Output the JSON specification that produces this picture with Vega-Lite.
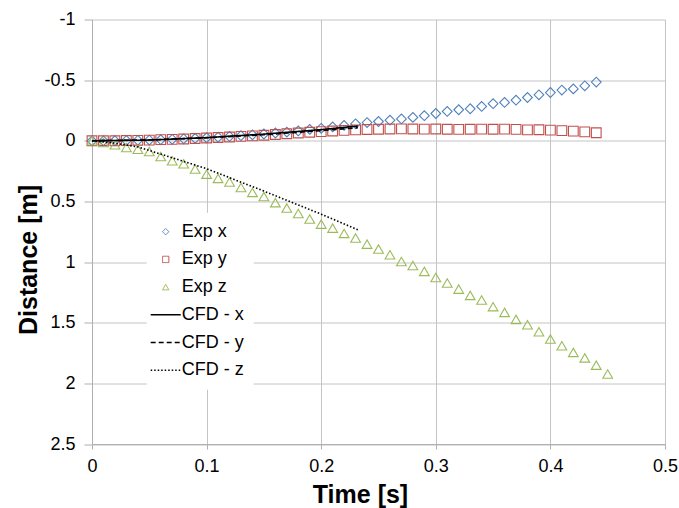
{
  "$schema": "https://vega.github.io/schema/vega-lite/v6.json",
  "width": 573,
  "height": 424.5,
  "autosize": {"type": "none"},
  "padding": {"left": 92, "top": 19.5, "right": 14, "bottom": 64},
  "background": "white",
  "config": {
    "font": "Liberation Sans",
    "view": {"stroke": null},
    "axis": {
      "labelFont": "Liberation Sans",
      "labelFontSize": 18,
      "labelColor": "#000000",
      "titleFont": "Liberation Sans",
      "titleFontSize": 25,
      "titleFontWeight": "bold",
      "titleColor": "#000000",
      "gridColor": "#C4C4C4",
      "gridWidth": 1,
      "domainColor": "#AFAFAF",
      "tickColor": "#AFAFAF"
    }
  },
  "datasets": {
    "exp": [
      {"t": 0.00, "d": 0.000, "series": "Exp x"},
      {"t": 0.01, "d": 0.000, "series": "Exp x"},
      {"t": 0.02, "d": -0.001, "series": "Exp x"},
      {"t": 0.03, "d": -0.002, "series": "Exp x"},
      {"t": 0.04, "d": -0.004, "series": "Exp x"},
      {"t": 0.05, "d": -0.006, "series": "Exp x"},
      {"t": 0.06, "d": -0.009, "series": "Exp x"},
      {"t": 0.07, "d": -0.012, "series": "Exp x"},
      {"t": 0.08, "d": -0.016, "series": "Exp x"},
      {"t": 0.09, "d": -0.020, "series": "Exp x"},
      {"t": 0.10, "d": -0.025, "series": "Exp x"},
      {"t": 0.11, "d": -0.030, "series": "Exp x"},
      {"t": 0.12, "d": -0.036, "series": "Exp x"},
      {"t": 0.13, "d": -0.042, "series": "Exp x"},
      {"t": 0.14, "d": -0.049, "series": "Exp x"},
      {"t": 0.15, "d": -0.056, "series": "Exp x"},
      {"t": 0.16, "d": -0.064, "series": "Exp x"},
      {"t": 0.17, "d": -0.072, "series": "Exp x"},
      {"t": 0.18, "d": -0.081, "series": "Exp x"},
      {"t": 0.19, "d": -0.094, "series": "Exp x"},
      {"t": 0.20, "d": -0.103, "series": "Exp x"},
      {"t": 0.21, "d": -0.114, "series": "Exp x"},
      {"t": 0.22, "d": -0.127, "series": "Exp x"},
      {"t": 0.23, "d": -0.140, "series": "Exp x"},
      {"t": 0.24, "d": -0.150, "series": "Exp x"},
      {"t": 0.25, "d": -0.159, "series": "Exp x"},
      {"t": 0.26, "d": -0.170, "series": "Exp x"},
      {"t": 0.27, "d": -0.180, "series": "Exp x"},
      {"t": 0.28, "d": -0.193, "series": "Exp x"},
      {"t": 0.29, "d": -0.207, "series": "Exp x"},
      {"t": 0.30, "d": -0.225, "series": "Exp x"},
      {"t": 0.31, "d": -0.242, "series": "Exp x"},
      {"t": 0.32, "d": -0.256, "series": "Exp x"},
      {"t": 0.33, "d": -0.264, "series": "Exp x"},
      {"t": 0.34, "d": -0.283, "series": "Exp x"},
      {"t": 0.35, "d": -0.306, "series": "Exp x"},
      {"t": 0.36, "d": -0.316, "series": "Exp x"},
      {"t": 0.37, "d": -0.335, "series": "Exp x"},
      {"t": 0.38, "d": -0.357, "series": "Exp x"},
      {"t": 0.39, "d": -0.379, "series": "Exp x"},
      {"t": 0.40, "d": -0.398, "series": "Exp x"},
      {"t": 0.41, "d": -0.418, "series": "Exp x"},
      {"t": 0.42, "d": -0.428, "series": "Exp x"},
      {"t": 0.43, "d": -0.453, "series": "Exp x"},
      {"t": 0.44, "d": -0.484, "series": "Exp x"},
      {"t": 0.00, "d": 0.000, "series": "Exp y"},
      {"t": 0.01, "d": 0.000, "series": "Exp y"},
      {"t": 0.02, "d": 0.000, "series": "Exp y"},
      {"t": 0.03, "d": -0.002, "series": "Exp y"},
      {"t": 0.04, "d": -0.004, "series": "Exp y"},
      {"t": 0.05, "d": -0.006, "series": "Exp y"},
      {"t": 0.06, "d": -0.009, "series": "Exp y"},
      {"t": 0.07, "d": -0.012, "series": "Exp y"},
      {"t": 0.08, "d": -0.015, "series": "Exp y"},
      {"t": 0.09, "d": -0.019, "series": "Exp y"},
      {"t": 0.10, "d": -0.023, "series": "Exp y"},
      {"t": 0.11, "d": -0.027, "series": "Exp y"},
      {"t": 0.12, "d": -0.031, "series": "Exp y"},
      {"t": 0.13, "d": -0.036, "series": "Exp y"},
      {"t": 0.14, "d": -0.041, "series": "Exp y"},
      {"t": 0.15, "d": -0.046, "series": "Exp y"},
      {"t": 0.16, "d": -0.052, "series": "Exp y"},
      {"t": 0.17, "d": -0.058, "series": "Exp y"},
      {"t": 0.18, "d": -0.064, "series": "Exp y"},
      {"t": 0.19, "d": -0.070, "series": "Exp y"},
      {"t": 0.20, "d": -0.076, "series": "Exp y"},
      {"t": 0.21, "d": -0.081, "series": "Exp y"},
      {"t": 0.22, "d": -0.086, "series": "Exp y"},
      {"t": 0.23, "d": -0.090, "series": "Exp y"},
      {"t": 0.24, "d": -0.093, "series": "Exp y"},
      {"t": 0.25, "d": -0.095, "series": "Exp y"},
      {"t": 0.26, "d": -0.097, "series": "Exp y"},
      {"t": 0.27, "d": -0.098, "series": "Exp y"},
      {"t": 0.28, "d": -0.097, "series": "Exp y"},
      {"t": 0.29, "d": -0.096, "series": "Exp y"},
      {"t": 0.30, "d": -0.097, "series": "Exp y"},
      {"t": 0.31, "d": -0.095, "series": "Exp y"},
      {"t": 0.32, "d": -0.094, "series": "Exp y"},
      {"t": 0.33, "d": -0.095, "series": "Exp y"},
      {"t": 0.34, "d": -0.096, "series": "Exp y"},
      {"t": 0.35, "d": -0.095, "series": "Exp y"},
      {"t": 0.36, "d": -0.096, "series": "Exp y"},
      {"t": 0.37, "d": -0.094, "series": "Exp y"},
      {"t": 0.38, "d": -0.090, "series": "Exp y"},
      {"t": 0.39, "d": -0.091, "series": "Exp y"},
      {"t": 0.40, "d": -0.088, "series": "Exp y"},
      {"t": 0.41, "d": -0.084, "series": "Exp y"},
      {"t": 0.42, "d": -0.080, "series": "Exp y"},
      {"t": 0.43, "d": -0.074, "series": "Exp y"},
      {"t": 0.44, "d": -0.066, "series": "Exp y"},
      {"t": 0.00, "d": 0.000, "series": "Exp z"},
      {"t": 0.01, "d": 0.014, "series": "Exp z"},
      {"t": 0.02, "d": 0.033, "series": "Exp z"},
      {"t": 0.03, "d": 0.055, "series": "Exp z"},
      {"t": 0.04, "d": 0.070, "series": "Exp z"},
      {"t": 0.05, "d": 0.088, "series": "Exp z"},
      {"t": 0.06, "d": 0.130, "series": "Exp z"},
      {"t": 0.07, "d": 0.165, "series": "Exp z"},
      {"t": 0.08, "d": 0.190, "series": "Exp z"},
      {"t": 0.09, "d": 0.233, "series": "Exp z"},
      {"t": 0.10, "d": 0.275, "series": "Exp z"},
      {"t": 0.11, "d": 0.310, "series": "Exp z"},
      {"t": 0.12, "d": 0.340, "series": "Exp z"},
      {"t": 0.13, "d": 0.385, "series": "Exp z"},
      {"t": 0.14, "d": 0.426, "series": "Exp z"},
      {"t": 0.15, "d": 0.460, "series": "Exp z"},
      {"t": 0.16, "d": 0.510, "series": "Exp z"},
      {"t": 0.17, "d": 0.555, "series": "Exp z"},
      {"t": 0.18, "d": 0.600, "series": "Exp z"},
      {"t": 0.19, "d": 0.645, "series": "Exp z"},
      {"t": 0.20, "d": 0.687, "series": "Exp z"},
      {"t": 0.21, "d": 0.720, "series": "Exp z"},
      {"t": 0.22, "d": 0.764, "series": "Exp z"},
      {"t": 0.23, "d": 0.802, "series": "Exp z"},
      {"t": 0.24, "d": 0.852, "series": "Exp z"},
      {"t": 0.25, "d": 0.893, "series": "Exp z"},
      {"t": 0.26, "d": 0.940, "series": "Exp z"},
      {"t": 0.27, "d": 0.995, "series": "Exp z"},
      {"t": 0.28, "d": 1.028, "series": "Exp z"},
      {"t": 0.29, "d": 1.077, "series": "Exp z"},
      {"t": 0.30, "d": 1.127, "series": "Exp z"},
      {"t": 0.31, "d": 1.173, "series": "Exp z"},
      {"t": 0.32, "d": 1.223, "series": "Exp z"},
      {"t": 0.33, "d": 1.275, "series": "Exp z"},
      {"t": 0.34, "d": 1.313, "series": "Exp z"},
      {"t": 0.35, "d": 1.368, "series": "Exp z"},
      {"t": 0.36, "d": 1.415, "series": "Exp z"},
      {"t": 0.37, "d": 1.473, "series": "Exp z"},
      {"t": 0.38, "d": 1.517, "series": "Exp z"},
      {"t": 0.39, "d": 1.575, "series": "Exp z"},
      {"t": 0.40, "d": 1.635, "series": "Exp z"},
      {"t": 0.41, "d": 1.690, "series": "Exp z"},
      {"t": 0.42, "d": 1.745, "series": "Exp z"},
      {"t": 0.43, "d": 1.790, "series": "Exp z"},
      {"t": 0.44, "d": 1.850, "series": "Exp z"},
      {"t": 0.45, "d": 1.923, "series": "Exp z"}
    ],
    "cfd": [
      {"t": 0.00, "d": 0.000, "series": "CFD - x"},
      {"t": 0.05, "d": -0.006, "series": "CFD - x"},
      {"t": 0.10, "d": -0.026, "series": "CFD - x"},
      {"t": 0.15, "d": -0.055, "series": "CFD - x"},
      {"t": 0.20, "d": -0.092, "series": "CFD - x"},
      {"t": 0.232, "d": -0.122, "series": "CFD - x"},
      {"t": 0.00, "d": 0.000, "series": "CFD - y"},
      {"t": 0.05, "d": -0.007, "series": "CFD - y"},
      {"t": 0.10, "d": -0.025, "series": "CFD - y"},
      {"t": 0.15, "d": -0.050, "series": "CFD - y"},
      {"t": 0.20, "d": -0.084, "series": "CFD - y"},
      {"t": 0.232, "d": -0.108, "series": "CFD - y"},
      {"t": 0.00, "d": 0.000, "series": "CFD - z"},
      {"t": 0.02, "d": 0.020, "series": "CFD - z"},
      {"t": 0.04, "d": 0.050, "series": "CFD - z"},
      {"t": 0.05, "d": 0.080, "series": "CFD - z"},
      {"t": 0.10, "d": 0.230, "series": "CFD - z"},
      {"t": 0.15, "d": 0.415, "series": "CFD - z"},
      {"t": 0.20, "d": 0.605, "series": "CFD - z"},
      {"t": 0.233, "d": 0.738, "series": "CFD - z"}
    ]
  },
  "encoding": {
    "x": {
      "field": "t", "type": "quantitative",
      "scale": {"domain": [0, 0.5], "nice": false, "zero": false},
      "axis": {
        "title": "Time [s]",
        "values": [0, 0.1, 0.2, 0.3, 0.4, 0.5],
        "labelExpr": "datum.value",
        "tickSize": 5,
        "labelPadding": 8,
        "titleX": 268,
        "titleY": 50,
        "titleAlign": "center",
        "titleBaseline": "middle",
        "labelFlush": false
      }
    },
    "y": {
      "field": "d", "type": "quantitative",
      "scale": {"domain": [-1, 2.5], "reverse": true, "nice": false, "zero": false},
      "axis": {
        "title": "Distance [m]",
        "values": [-1, -0.5, 0, 0.5, 1, 1.5, 2, 2.5],
        "labelExpr": "datum.value",
        "tickSize": 8,
        "labelPadding": 9,
        "titleX": -63.5,
        "titleY": 240,
        "titleAngle": -90,
        "titleAlign": "center",
        "titleBaseline": "middle",
        "labelFlush": false
      }
    },
    "color": {
      "field": "series", "type": "nominal",
      "scale": {
        "domain": ["Exp x", "Exp y", "Exp z", "CFD - x", "CFD - y", "CFD - z"],
        "range": ["#4F81BD", "#C0504D", "#9BBB59", "#000000", "#000000", "#000000"]
      },
      "legend": {
        "title": null,
        "orient": "none",
        "legendX": 54.7,
        "legendY": 193.2,
        "padding": 10,
        "fillColor": "white",
        "labelFont": "Liberation Sans",
        "labelFontSize": 18,
        "labelColor": "#000000",
        "labelOffset": 7,
        "rowPadding": 9.7,
        "symbolSize": 900,
        "symbolStrokeWidth": 1.5,
        "symbolFillColor": "transparent",
        "encode": {
          "symbols": {
            "update": {
              "size": {"signal": "indexof(['Exp x','Exp y','Exp z'], datum.value) >= 0 ? 40 : 900"},
              "strokeWidth": {"signal": "indexof(['Exp x','Exp y','Exp z'], datum.value) >= 0 ? 1 : 1.6"}
            }
          }
        }
      }
    }
  },
  "layer": [
    {
      "data": {"name": "exp"},
      "mark": {"type": "point", "filled": false, "size": 95, "strokeWidth": 1.1, "opacity": 1},
      "encoding": {
        "shape": {
          "field": "series", "type": "nominal",
          "scale": {
            "domain": ["Exp x", "Exp y", "Exp z", "CFD - x", "CFD - y", "CFD - z"],
            "range": ["diamond", "square", "triangle-up", "stroke", "stroke", "stroke"]
          }
        }
      }
    },
    {
      "data": {"name": "cfd"},
      "mark": {"type": "line", "strokeWidth": 1.6},
      "encoding": {
        "strokeDash": {
          "field": "series", "type": "nominal",
          "scale": {
            "domain": ["Exp x", "Exp y", "Exp z", "CFD - x", "CFD - y", "CFD - z"],
            "range": [[1, 0], [1, 0], [1, 0], [1, 0], [5, 3], [1.5, 2]]
          }
        }
      }
    }
  ]
}
